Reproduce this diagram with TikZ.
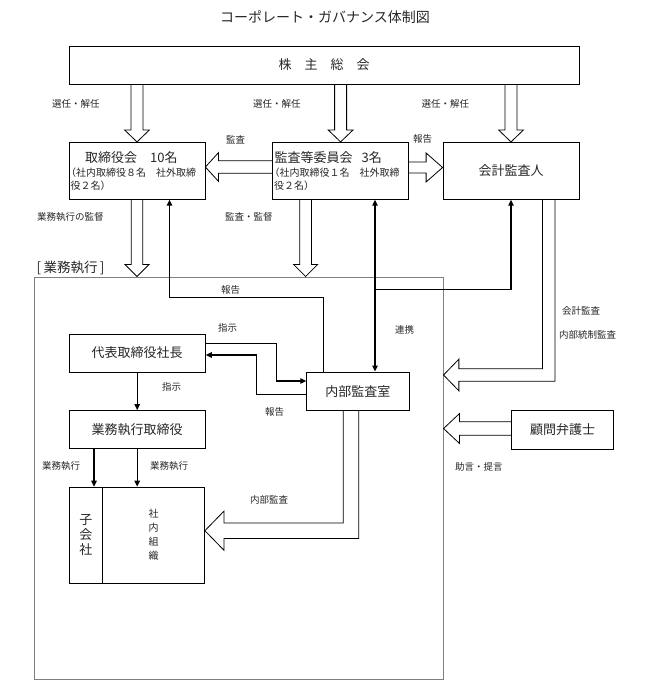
\documentclass[tikz,border=0pt]{standalone}
\usepackage{fontspec}
\setmainfont{Noto Sans CJK JP}
\usetikzlibrary{arrows.meta,calc}
\tikzset{
  box/.style={draw=black, line width=0.8pt, inner sep=0pt, font=\fontsize{13}{15}\selectfont, text=black!85},
  lab/.style={anchor=west, inner sep=0pt, font=\fontsize{9.5}{11}\selectfont, text=black!85},
  sub/.style={anchor=west, inner sep=0pt, font=\fontsize{10}{12}\selectfont, text=black!85},
  hollow/.style={draw=black, line width=0.8pt},
  tarrow/.style={line width=1.2pt, -{Triangle[length=6pt,width=5.5pt]}},
  tarrowboth/.style={line width=1.2pt, {Triangle[length=6pt,width=5.5pt]}-{Triangle[length=6pt,width=5.5pt]}},
}
\newcommand\BlkDown[5]{\draw[hollow] let \p1=(#1), \p2=(#2) in
  (\x1-#3,\y1) -- (\x1-#3,\y2+#5) -- (\x1-#4,\y2+#5) -- (\x1,\y2) -- (\x1+#4,\y2+#5) -- (\x1+#3,\y2+#5) -- (\x1+#3,\y1);}
\newcommand\BlkLeft[5]{\draw[hollow] let \p1=(#1), \p2=(#2) in
  (\x1,\y1+#3) -- (\x2+#5,\y1+#3) -- (\x2+#5,\y1+#4) -- (\x2,\y1) -- (\x2+#5,\y1-#4) -- (\x2+#5,\y1-#3) -- (\x1,\y1-#3);}
\newcommand\BlkRight[5]{\draw[hollow] let \p1=(#1), \p2=(#2) in
  (\x1,\y1+#3) -- (\x2-#5,\y1+#3) -- (\x2-#5,\y1+#4) -- (\x2,\y1) -- (\x2-#5,\y1-#4) -- (\x2-#5,\y1-#3) -- (\x1,\y1-#3);}
\newcommand\BlkDownLeft[5]{\draw[hollow] let \p1=(#1), \p2=(#2) in
  (\x1-#3,\y1) -- (\x1-#3,\y2+#3) -- (\x2+#5,\y2+#3) -- (\x2+#5,\y2+#4) -- (\x2,\y2) -- (\x2+#5,\y2-#4) -- (\x2+#5,\y2-#3) -- (\x1+#3,\y2-#3) -- (\x1+#3,\y1);}
\begin{document}
\begin{tikzpicture}[x=1pt,y=-1pt]
\useasboundingbox (0,0) rectangle (648,699);

% title
\node[inner sep=0pt, font=\fontsize{14}{16}\selectfont, text=black!85] (title) at (325,17) {コーポレート・ガバナンス体制図};

% boxes
\node[box, minimum width=510pt, minimum height=38pt] (shm) at (324.2,65) {株　主　総　会};
\node[box, minimum width=136pt, minimum height=57pt] (tori) at (137,170.8) {};
\node[box, minimum width=136pt, minimum height=57pt] (kansa) at (340.6,170.8) {};
\node[box, minimum width=136pt, minimum height=57pt] (kaikei) at (511,170.8) {会計監査人};
\node[draw=black!50, line width=1pt, minimum width=408.7pt, minimum height=402pt, inner sep=0pt] (frame) at (238.7,478) {};
\node[box, minimum width=136.5pt, minimum height=38pt] (daihyo) at (137.2,353) {代表取締役社長};
\node[box, minimum width=102.3pt, minimum height=38.5pt] (naibu) at (357.8,391.2) {内部監査室};
\node[box, minimum width=136.5pt, minimum height=38pt] (gyomu) at (137.2,429.6) {業務執行取締役};
\node[box, minimum width=101.6pt, minimum height=38.6pt] (komon) at (562.5,430) {顧問弁護士};
\node[box, minimum width=33.7pt, minimum height=96.3pt, align=center, font=\fontsize{13}{15}\selectfont] (kogaisha) at (85.8,535.2) {子\\会\\社};
\node[box, minimum width=101.8pt, minimum height=96.3pt, align=center, font=\fontsize{10}{14}\selectfont] (shanai) at (153.6,535.2) {社\\内\\組\\織};

% text inside the two multi-line boxes
\node[anchor=west, inner sep=0pt, font=\fontsize{13}{15}\selectfont, text=black!85] (torit1) at (85,157.7) {取締役会　10名};
\node[sub] (torit2) at (66,172.7) {（社内取締役８名　社外取締};
\node[sub] (torit3) at (70.5,185.2) {役２名）};
\node[anchor=west, inner sep=0pt, font=\fontsize{13}{15}\selectfont, text=black!85] (kansat1) at (274.5,157.7) {監査等委員会\hspace{9pt}3名};
\node[sub] (kansat2) at (269.5,172.7) {（社内取締役１名　社外取締};
\node[sub] (kansat3) at (274,185.2) {役２名）};

% frame caption
\node[anchor=west, inner sep=0pt, font=\fontsize{13.5}{15}\selectfont, text=black!85] (framecap) at (36.5,267.5) {[\,業務執行\,]};

% hollow block arrows
\BlkDown{shm.south -| tori.north}{tori.north}{6pt}{12.5pt}{12pt}
\BlkDown{shm.south -| kansa.north}{kansa.north}{6pt}{12.5pt}{12pt}
\BlkDown{shm.south -| kaikei.north}{kaikei.north}{6pt}{12.5pt}{12pt}
\BlkLeft{[yshift=3.8pt]kansa.west}{tori.east}{6.3pt}{14.3pt}{13pt}
\BlkRight{[yshift=3.3pt]kansa.east}{kaikei.west}{5.5pt}{14.5pt}{16.5pt}
\BlkDown{tori.south}{frame.north}{5.8pt}{12pt}{12pt}
\BlkDown{[xshift=-35pt]kansa.south}{frame.north}{5.8pt}{12pt}{12pt}
\coordinate (yk) at (0,375);
\BlkDownLeft{[xshift=37.7pt]kaikei.south}{frame.east |- yk}{6.3pt}{15.8pt}{15.3pt}
\BlkLeft{[yshift=1.5pt]komon.west}{frame.east}{6.7pt}{15pt}{16pt}
\BlkDownLeft{[xshift=-6.8pt]naibu.south}{[yshift=4.5pt]shanai.east}{7.7pt}{19.5pt}{19pt}

% thin arrows
\coordinate (yr1) at (0,297.7);
\coordinate (yr2) at (0,289.3);
\draw[tarrow] ([xshift=-34pt]naibu.north) -- ([xshift=-34pt]naibu.north |- yr1) -| ([xshift=32.5pt]tori.south);
\draw[tarrowboth] ([xshift=34.4pt]kansa.south) -- ([xshift=17.2pt]naibu.north);
\coordinate (jn) at ([xshift=34.4pt]kansa.south |- yr2);
\draw[tarrow] (jn) -| (kaikei.south);
\draw[tarrow] ([yshift=9.7pt]daihyo.east) -- ++(71,0) |- ([yshift=10.2pt]naibu.west);
\draw[tarrow] ([yshift=-3pt]naibu.west) -- ++(-50,0) |- ([yshift=-2pt]daihyo.east);
\draw[tarrow] (daihyo.south) -- (gyomu.north);
\draw[tarrow] ([xshift=-43.2pt]gyomu.south) -- ([xshift=-43.2pt]gyomu.south |- kogaisha.north);
\draw[tarrow] (gyomu.south) -- (gyomu.south |- shanai.north);

% labels
\node[lab] (l1) at (52,104) {選任・解任};
\node[lab] (l2) at (253,104) {選任・解任};
\node[lab] (l3) at (421.5,104) {選任・解任};
\node[lab] (l4) at (226,140) {監査};
\node[lab] (l5) at (413,139) {報告};
\node[lab] (l6) at (37,217) {業務執行の監督};
\node[lab] (l7) at (225,217) {監査・監督};
\node[lab] (l8) at (221,290) {報告};
\node[lab] (l9) at (218,328) {指示};
\node[lab] (l10) at (395,330) {連携};
\node[lab] (l11) at (562,311) {会計監査};
\node[lab] (l12) at (559,335) {内部統制監査};
\node[lab] (l13) at (162,387) {指示};
\node[lab] (l14) at (265,412) {報告};
\node[lab] (l15) at (42,466) {業務執行};
\node[lab] (l16) at (150,466) {業務執行};
\node[lab] (l17) at (250,500) {内部監査};
\node[lab] (l18) at (455,467) {助言・提言};
\end{tikzpicture}
\end{document}
